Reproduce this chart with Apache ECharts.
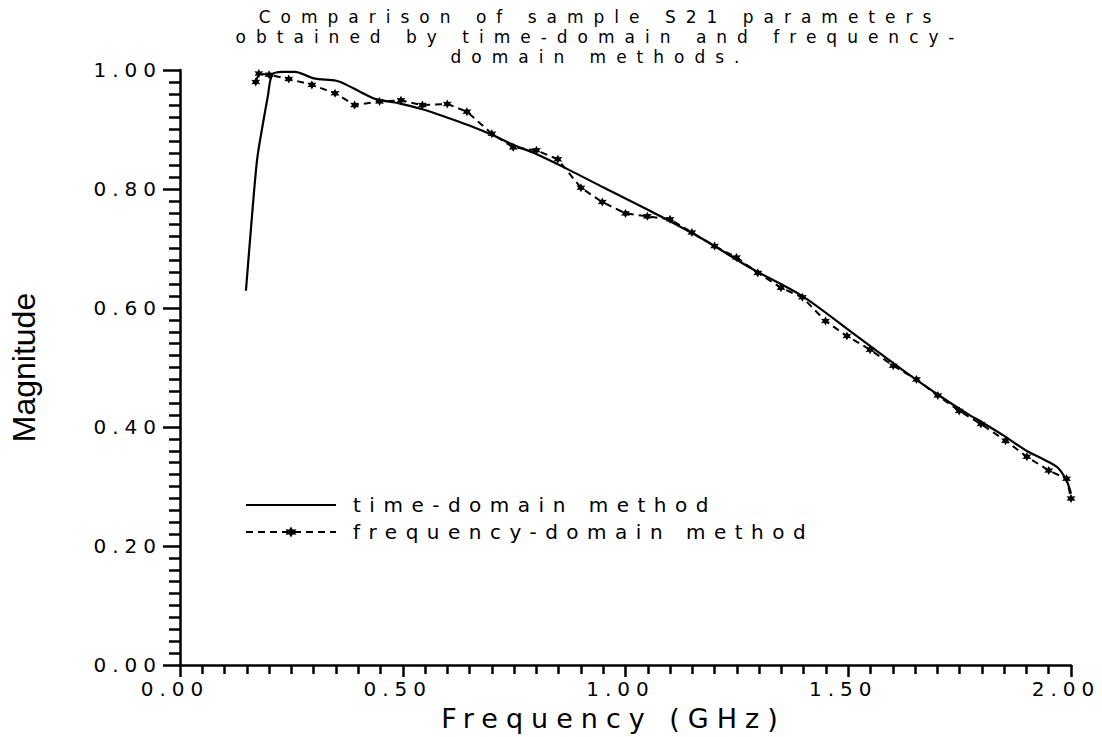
<!DOCTYPE html>
<html><head><meta charset="utf-8">
<script src="https://cdn.jsdelivr.net/npm/echarts@6/dist/echarts.min.js"></script>
<style>html,body{margin:0;padding:0;background:#fff}#c{width:1102px;height:737px}</style>
</head><body><div id="c"></div>
<script>
const titleLines = ['Comparison of sample S21 parameters', 'obtained by time-domain and frequency-', 'domain methods.'];
const xAxisTitle = 'Frequency (GHz)';
const yAxisTitle = 'Magnitude';
const xTickLabels = ['0.00', '0.50', '1.00', '1.50', '2.00'];
const yTickLabels = ['0.00', '0.20', '0.40', '0.60', '0.80', '1.00'];
const seriesNames = ['time-domain method', 'frequency-domain method'];

// time-domain method (solid)
const timeX = [0.148, 0.160, 0.173, 0.185, 0.197, 0.207, 0.230, 0.258, 0.300, 0.351, 0.374, 0.403, 0.440, 0.492, 0.544, 0.596, 0.648, 0.700, 0.752, 0.796, 0.871, 0.952, 1.071, 1.175, 1.286, 1.397, 1.508, 1.620, 1.716, 1.768, 1.800, 1.850, 1.900, 1.940, 1.970, 1.990, 2.000];
const timeY = [0.629, 0.740, 0.849, 0.905, 0.955, 0.992, 0.997, 0.997, 0.986, 0.982, 0.975, 0.964, 0.951, 0.944, 0.934, 0.921, 0.907, 0.891, 0.873, 0.860, 0.833, 0.802, 0.757, 0.715, 0.665, 0.620, 0.559, 0.497, 0.447, 0.422, 0.408, 0.385, 0.360, 0.345, 0.332, 0.310, 0.288];

// frequency-domain method (dashed with star markers)
const freqX = [0.170, 0.177, 0.200, 0.244, 0.296, 0.348, 0.392, 0.448, 0.496, 0.544, 0.600, 0.644, 0.700, 0.748, 0.800, 0.848, 0.900, 0.948, 1.000, 1.049, 1.100, 1.149, 1.200, 1.249, 1.297, 1.349, 1.397, 1.449, 1.497, 1.549, 1.601, 1.653, 1.701, 1.749, 1.798, 1.853, 1.901, 1.950, 1.990, 2.000];
const freqY = [0.980, 0.994, 0.992, 0.985, 0.975, 0.961, 0.941, 0.947, 0.949, 0.941, 0.943, 0.930, 0.893, 0.870, 0.865, 0.850, 0.802, 0.778, 0.759, 0.754, 0.749, 0.727, 0.704, 0.685, 0.659, 0.634, 0.618, 0.578, 0.553, 0.530, 0.503, 0.480, 0.453, 0.427, 0.405, 0.377, 0.350, 0.327, 0.313, 0.280];

const zip = (xs, ys) => xs.map((x, i) => [x, ys[i]]);
const FONT = '"DejaVu Sans", sans-serif';
const star = 'path://M0,-10 L2.6,-4.5 L8.7,-5 L5.2,0 L8.7,5 L2.6,4.5 L0,10 L-2.6,4.5 L-8.7,5 L-5.2,0 L-8.7,-5 L-2.6,-4.5 Z';

const chart = echarts.init(document.getElementById('c'), null, {renderer: 'svg'});
chart.setOption({
  animation: false,
  backgroundColor: '#fff',
  graphic: titleLines.map((line, i) => ({
    type: 'text', x: 600, y: 8 + i * 20,
    style: {text: line, textAlign: 'center', fill: '#000', font: '17px ' + FONT}
  })),
  grid: {left: 172, right: 31, top: 70, bottom: 70},
  legend: {
    orient: 'vertical', left: 240, top: 490, itemWidth: 90, itemHeight: 14, itemGap: 7,
    data: [{name: seriesNames[0], itemStyle: {opacity: 0}}, {name: seriesNames[1]}],
    textStyle: {fontFamily: FONT, fontSize: 20, color: '#000', padding: [0, 0, 0, 12]}
  },
  xAxis: {
    type: 'value', min: 0, max: 2, interval: 0.5,
    name: xAxisTitle, nameLocation: 'middle', nameGap: 40,
    nameTextStyle: {fontFamily: FONT, fontSize: 27, color: '#000', padding: [0, 24, 0, 0]},
    axisLine: {lineStyle: {color: '#000', width: 2.5}},
    axisTick: {show: true, length: 12, lineStyle: {color: '#000', width: 2.5}},
    minorTick: {show: true, splitNumber: 10, length: 9, lineStyle: {color: '#000', width: 2.5}},
    splitLine: {show: false},
    axisLabel: {margin: 14, fontFamily: FONT, fontSize: 20, color: '#000', padding: [0, 10, 0, 0],
      formatter: v => xTickLabels[Math.round(v / 0.5)]}
  },
  yAxis: {
    type: 'value', min: 0, max: 1, interval: 0.2,
    name: yAxisTitle, nameLocation: 'middle', nameGap: 140, nameRotate: 90,
    nameTextStyle: {fontFamily: '"Liberation Sans", Arial, sans-serif', fontSize: 32, color: '#000'},
    axisLine: {lineStyle: {color: '#000', width: 2.5}},
    axisTick: {show: true, length: 17, lineStyle: {color: '#000', width: 2.5}},
    minorTick: {show: true, splitNumber: 10, length: 11, lineStyle: {color: '#000', width: 2.5}},
    splitLine: {show: false},
    axisLabel: {margin: 18, fontFamily: FONT, fontSize: 20, color: '#000',
      formatter: v => yTickLabels[Math.round(v / 0.2)]}
  },
  series: [{
    name: seriesNames[0], type: 'line', data: zip(timeX, timeY), smooth: 0.3,
    showSymbol: false, symbol: 'none',
    lineStyle: {color: '#000', width: 2.2}, itemStyle: {color: '#000'}
  }, {
    name: seriesNames[1], type: 'line', data: zip(freqX, freqY),
    symbol: star, symbolSize: 9, showSymbol: true,
    lineStyle: {color: '#000', width: 2, type: [7, 5]}, itemStyle: {color: '#000'}
  }]
});
document.querySelectorAll('#c svg text').forEach(t => {
  const s = t.textContent;
  let sp = '6px';
  if (s === yAxisTitle) sp = '0px';
  else if (titleLines.includes(s)) sp = '10px';
  else if (seriesNames.includes(s)) sp = '8.5px';
  else if (s === xAxisTitle) sp = '8px';
  t.style.letterSpacing = sp;
});
</script>
</body></html>
